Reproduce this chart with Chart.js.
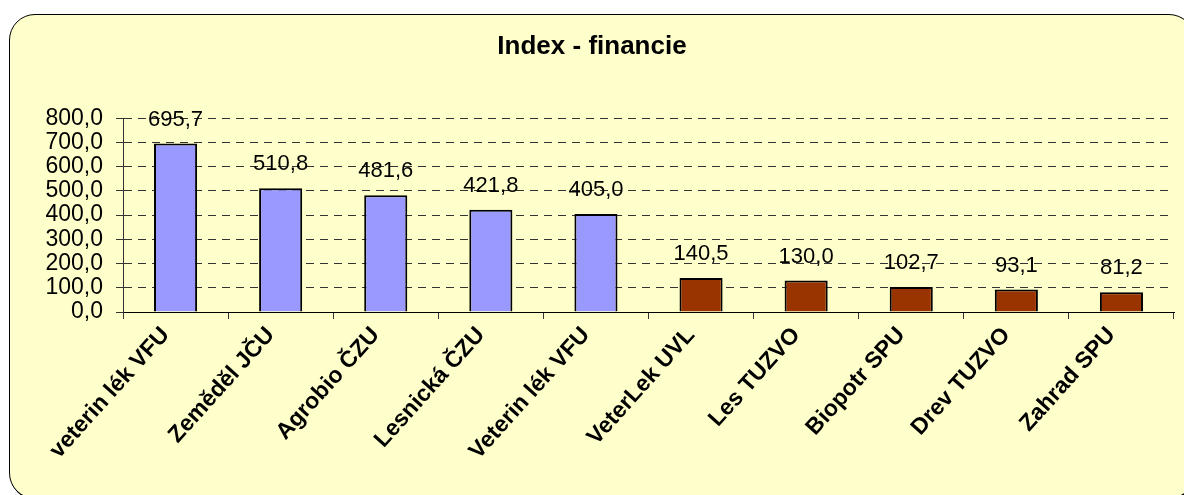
<!DOCTYPE html>
<html>
<head>
<meta charset="utf-8">
<script src="https://cdn.jsdelivr.net/npm/chart.js@4"></script>
<style>
  html, body { margin: 0; padding: 0; background: #fff; overflow: hidden; }
  #box {
    position: absolute; left: 9px; top: 14px;
    width: 1184px; height: 483px;
    background: #FFFFCC;
    border: 1px solid #000;
    border-radius: 26px;
    box-shadow: 1px 1px 0 #000;
    overflow: hidden;
  }
  #chart { display: block; }
</style>
</head>
<body>
<div id="box"><canvas id="chart" width="1184" height="483"></canvas></div>
<script>
const categories = ["veterin lék VFU", "Zeměděl JČU", "Agrobio ČZU", "Lesnická ČZU", "Veterin lék VFU",
  "VeterLek UVL", "Les TUZVO", "Biopotr SPU", "Drev TUZVO", "Zahrad SPU"];
const values = [695.7, 510.8, 481.6, 421.8, 405.0, 140.5, 130.0, 102.7, 93.1, 81.2];
const barColors = ["#9999FF", "#9999FF", "#9999FF", "#9999FF", "#9999FF",
  "#993300", "#993300", "#993300", "#993300", "#993300"];
const yMin = 0, yMax = 800, yStep = 100;

const fmt = (v) => Number(v).toFixed(1).replace(".", ",");
const fontFamily = "'Liberation Sans', Arial, sans-serif";

// popisky hodnot nad sloupci
const valueLabels = {
  id: "valueLabels",
  afterDatasetsDraw(chart) {
    const ctx = chart.ctx;
    const meta = chart.getDatasetMeta(0);
    ctx.save();
    ctx.font = "22px " + fontFamily;
    ctx.fillStyle = "#000";
    ctx.textAlign = "center";
    ctx.textBaseline = "middle";
    meta.data.forEach((bar, i) => {
      ctx.fillText(fmt(values[i]), bar.x, bar.y - 24);
    });
    ctx.restore();
  }
};

new Chart(document.getElementById("chart"), {
  type: "bar",
  data: {
    labels: categories,
    datasets: [{
      data: values,
      backgroundColor: barColors,
      borderColor: "#000",
      borderWidth: 2,
      barPercentage: 0.41,
      categoryPercentage: 1.0
    }]
  },
  options: {
    responsive: false,
    animation: false,
    layout: { padding: { left: 0, right: 20, top: 0, bottom: 0 } },
    plugins: {
      legend: { display: false },
      tooltip: { enabled: false },
      title: {
        display: true,
        text: "Index - financie",
        color: "#000",
        font: { family: fontFamily, size: 26, weight: "bold" },
        padding: { top: 16, bottom: 56 }
      }
    },
    scales: {
      x: {
        offset: true,
        afterFit: (s) => { s.height = 186; },
        grid: {
          offset: true,
          drawOnChartArea: false,
          drawTicks: true,
          tickLength: 7,
          color: "#333"
        },
        border: { display: true, color: "#000", width: 1 },
        ticks: {
          minRotation: 48,
          maxRotation: 48,
          autoSkip: false,
          padding: 3,
          labelOffset: -10,
          color: "#000",
          font: { family: fontFamily, size: 23, weight: "bold" }
        }
      },
      y: {
        min: yMin,
        max: yMax,
        afterFit: (s) => { s.width = 113; },
        ticks: {
          stepSize: yStep,
          autoSkip: false,
          padding: 13,
          color: "#000",
          font: { family: fontFamily, size: 23 },
          callback: (v) => fmt(v)
        },
        grid: {
          color: "#333",
          lineWidth: 1,
          tickLength: 7,
          tickColor: "#333",
          tickBorderDash: [],
          tickWidth: 1
        },
        border: { display: true, color: "#333", width: 1, dash: [8, 6] }
      }
    }
  },
  plugins: [valueLabels]
});
</script>
</body>
</html>
